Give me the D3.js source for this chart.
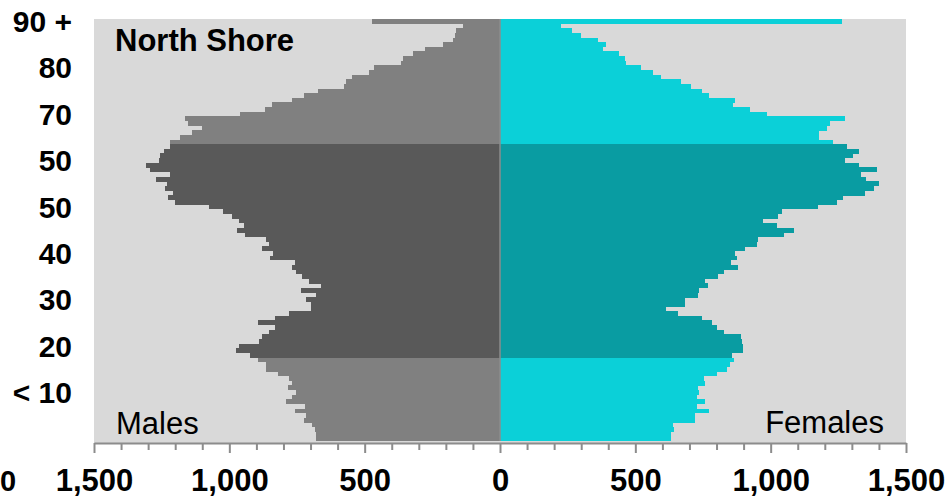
<!DOCTYPE html>
<html>
<head>
<meta charset="utf-8">
<script src="https://cdn.jsdelivr.net/npm/d3@7"></script>
<style>
  html, body { margin: 0; padding: 0; background: #ffffff; }
  svg { display: block; }
  text { font-family: "Liberation Sans", Arial, sans-serif; }
</style>
</head>
<body>
<svg id="chart" width="949" height="499"></svg>
<script>
// ---- DATA (rows from the top: age 90+ down to age 0) ----
const ages = [90, 89, 88, 87, 86, 85, 84, 83, 82, 81, 80, 79, 78, 77, 76, 75, 74, 73, 72, 71,
  70, 69, 68, 67, 66, 65, 64, 63, 62, 61, 60, 59, 58, 57, 56, 55, 54, 53, 52, 51,
  50, 49, 48, 47, 46, 45, 44, 43, 42, 41, 40, 39, 38, 37, 36, 35, 34, 33, 32, 31,
  30, 29, 28, 27, 26, 25, 24, 23, 22, 21, 20, 19, 18, 17, 16, 15, 14, 13, 12, 11,
  10, 9, 8, 7, 6, 5, 4, 3, 2, 1, 0];

const males = [474, 138, 163, 166, 175, 211, 278, 323, 360, 367,
  465, 484, 546, 570, 577, 673, 725, 770, 842, 867,
  959, 1163, 1151, 1101, 1138, 1181, 1218, 1218, 1243, 1256,
  1259, 1307, 1293, 1219, 1270, 1231, 1237, 1209, 1226, 1200,
  1074, 1022, 989, 963, 944, 970, 941, 863, 852, 881,
  837, 848, 759, 767, 752, 733, 707, 663, 737, 681,
  715, 700, 700, 781, 830, 893, 833, 852, 881, 889,
  963, 974, 922, 895, 863, 863, 819, 781, 767, 784,
  752, 767, 791, 722, 759, 715, 725, 693, 685, 678, 681];

const females = [1263, 226, 267, 300, 362, 393, 380, 440, 460, 467,
  522, 565, 596, 670, 704, 747, 773, 868, 862, 923,
  985, 1274, 1219, 1207, 1177, 1177, 1232, 1281, 1325, 1306,
  1275, 1325, 1393, 1333, 1352, 1399, 1380, 1347, 1269, 1244,
  1174, 1041, 1026, 970, 1022, 1085, 1048, 952, 948, 904,
  870, 874, 852, 878, 826, 804, 759, 767, 737, 733,
  685, 685, 615, 658, 748, 784, 800, 828, 890, 895,
  899, 899, 856, 864, 849, 837, 800, 754, 759, 732,
  736, 726, 759, 726, 773, 720, 720, 640, 644, 633, 630];

const workingAgeMin = 18;
const workingAgeMax = 63;

const ageTickAges = [90, 80, 70, 60, 50, 40, 30, 20, 10];
const ageTickLabels = ["90 +", "80", "70", "50", "50", "40", "30", "20", "< 10"];

const majorTicks = [-1500, -1000, -500, 0, 500, 1000, 1500];
const minorTicks = [-1400, -1300, -1200, -1100, -900, -800, -700, -600, -400, -300, -200, -100,
  100, 200, 300, 400, 600, 700, 800, 900, 1100, 1200, 1300, 1400];

const title = "North Shore";
const maleLabel = "Males";
const femaleLabel = "Females";
const edgeLabel = "0";

// ---- COLOURS ----
const colMaleLight = "#808080";
const colMaleDark = "#595959";
const colFemaleLight = "#0bd0d8";
const colFemaleDark = "#099ca2";
const colPlotBg = "#d9d9d9";
const colAxis = "#8c8c8c";

// ---- LAYOUT ----
const svg = d3.select("#chart");
const plotLeft = 94, plotRight = 906, plotTop = 19, barsBottom = 441, axisY = 443;

const x = d3.scaleLinear().domain([-1500, 1500]).range([plotLeft, plotRight]);
const y = d3.scaleBand().domain(ages).range([plotTop, barsBottom]).padding(0);

// plot background
svg.append("rect")
  .attr("x", plotLeft).attr("y", plotTop)
  .attr("width", plotRight - plotLeft).attr("height", axisY - plotTop)
  .attr("fill", colPlotBg);

const rows = ages.map((a, i) => ({ age: a, m: males[i], f: females[i] }));
const isWorking = a => a >= workingAgeMin && a <= workingAgeMax;

const bars = svg.append("g").attr("shape-rendering", "crispEdges");
bars.selectAll("rect.male").data(rows).join("rect")
  .attr("class", "male")
  .attr("x", d => x(-d.m))
  .attr("y", d => y(d.age))
  .attr("width", d => x(0) - x(-d.m))
  .attr("height", y.bandwidth() + 0.3)
  .attr("fill", d => isWorking(d.age) ? colMaleDark : colMaleLight);

bars.selectAll("rect.female").data(rows).join("rect")
  .attr("class", "female")
  .attr("x", x(0))
  .attr("y", d => y(d.age))
  .attr("width", d => x(d.f) - x(0))
  .attr("height", y.bandwidth() + 0.3)
  .attr("fill", d => isWorking(d.age) ? colFemaleDark : colFemaleLight);

// centre line
svg.append("line")
  .attr("x1", x(0)).attr("x2", x(0))
  .attr("y1", plotTop).attr("y2", barsBottom)
  .attr("stroke", colAxis).attr("stroke-width", 1.5);

// x axis: minor ticks
const minorAxis = d3.axisBottom(x).tickValues(minorTicks).tickSize(7).tickFormat("");
const gMinor = svg.append("g").attr("transform", `translate(0,${axisY})`).call(minorAxis);
gMinor.select(".domain").remove();
gMinor.selectAll(".tick line").attr("stroke", colAxis).attr("stroke-width", 2);

// x axis: major ticks with labels
const fmt = d3.format(",");
const majorAxis = d3.axisBottom(x).tickValues(majorTicks).tickSize(10).tickSizeOuter(0)
  .tickFormat(d => fmt(Math.abs(d)));
const gMajor = svg.append("g").attr("transform", `translate(0,${axisY})`).call(majorAxis);
gMajor.select(".domain").attr("stroke", colAxis).attr("stroke-width", 2);
gMajor.selectAll(".tick line").attr("stroke", colAxis).attr("stroke-width", 2);
gMajor.selectAll(".tick text")
  .attr("y", 48).attr("dy", 0)
  .attr("fill", "#000")
  .style("font-family", "'Liberation Sans', Arial, sans-serif")
  .style("font-size", "31px").style("font-weight", "bold");

// label fragment visible at the left edge
svg.append("text")
  .attr("x", 0).attr("y", axisY + 48)
  .attr("text-anchor", "start")
  .style("font-size", "29px").style("font-weight", "bold")
  .text(edgeLabel);

// y (age) labels
svg.append("g").selectAll("text").data(ageTickAges).join("text")
  .attr("x", 72)
  .attr("y", d => y(d) + y.bandwidth() / 2)
  .attr("dy", "0.36em")
  .attr("text-anchor", "end")
  .style("font-size", "30px").style("font-weight", "bold")
  .text((d, i) => ageTickLabels[i]);

// title and side labels
svg.append("text").attr("x", 115).attr("y", 51)
  .style("font-size", "31px").style("font-weight", "bold").text(title);
svg.append("text").attr("x", 116).attr("y", 434)
  .style("font-size", "31px").text(maleLabel);
svg.append("text").attr("x", 884).attr("y", 433).attr("text-anchor", "end")
  .style("font-size", "31px").text(femaleLabel);
</script>
</body>
</html>
